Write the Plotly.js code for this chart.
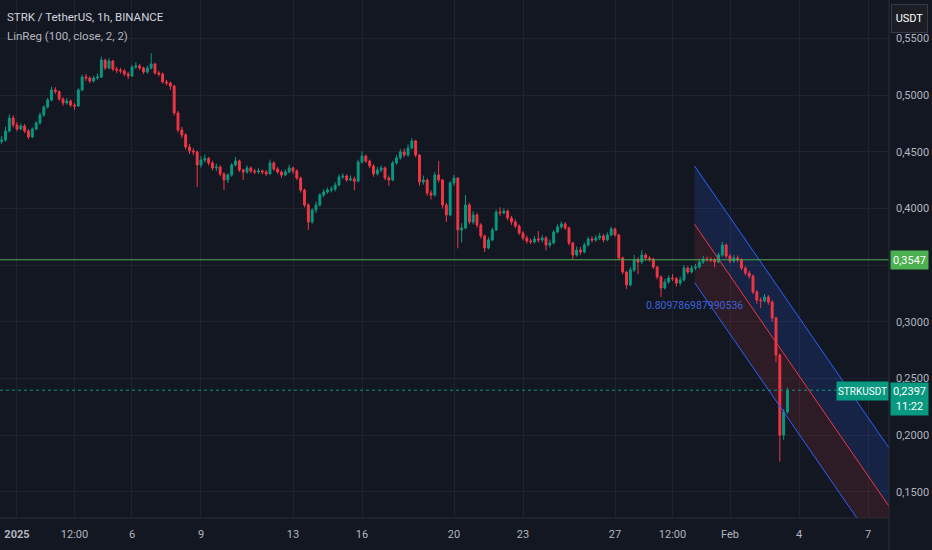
<!DOCTYPE html>
<html>
<head>
<meta charset="utf-8">
<script src="https://cdn.plot.ly/plotly-3.0.1.min.js"></script>
<style>
  html, body { margin: 0; padding: 0; background: #131722; }
  #chart { width: 932px; height: 550px; }
</style>
</head>
<body>
<div id="chart"></div>
<script>
// ---- data (4h bars) ----
const firstBarTime = "2024-12-31 08:00";
const barHours = 4;
const firstOpen = 0.4590;
const closes = [0.4603,0.4683,0.4797,0.4736,0.4700,0.4727,0.4683,0.4630,0.4700,0.4753,
0.4824,0.4894,0.4956,0.5044,0.5030,0.4965,0.4930,0.4947,0.4912,0.4903,
0.5044,0.5159,0.5150,0.5124,0.5150,0.5159,0.5309,0.5238,0.5300,0.5229,
0.5221,0.5212,0.5185,0.5168,0.5247,0.5256,0.5238,0.5203,0.5238,0.5274,
0.5194,0.5185,0.5115,0.5106,0.5080,0.4842,0.4692,0.4648,0.4542,0.4506,
0.4498,0.4383,0.4427,0.4440,0.4401,0.4357,0.4365,0.4304,0.4251,0.4295,
0.4383,0.4418,0.4339,0.4321,0.4357,0.4330,0.4321,0.4330,0.4321,0.4304,
0.4401,0.4348,0.4321,0.4295,0.4321,0.4357,0.4330,0.4268,0.4162,0.4030,
0.3880,0.3986,0.4030,0.4118,0.4145,0.4162,0.4170,0.4206,0.4277,0.4286,
0.4251,0.4260,0.4240,0.4409,0.4462,0.4418,0.4374,0.4304,0.4339,0.4357,
0.4268,0.4251,0.4401,0.4445,0.4498,0.4471,0.4533,0.4595,0.4471,0.4233,
0.4251,0.4136,0.4118,0.4295,0.4251,0.4030,0.3942,0.4224,0.4268,0.3810,
0.3827,0.4030,0.3880,0.3942,0.3854,0.3757,0.3651,0.3722,0.3810,0.3968,
0.3960,0.3977,0.3916,0.3880,0.3845,0.3783,0.3739,0.3713,0.3705,0.3730,
0.3722,0.3740,0.3677,0.3695,0.3792,0.3836,0.3863,0.3827,0.3695,0.3589,
0.3633,0.3616,0.3677,0.3730,0.3722,0.3739,0.3757,0.3722,0.3766,0.3819,
0.3766,0.3563,0.3439,0.3325,0.3457,0.3545,0.3527,0.3589,0.3563,0.3554,
0.3483,0.3395,0.3298,0.3351,0.3386,0.3380,0.3342,0.3369,0.3475,0.3439,
0.3475,0.3483,0.3527,0.3554,0.3548,0.3545,0.3527,0.3589,0.3677,0.3580,
0.3536,0.3563,0.3545,0.3475,0.3430,0.3404,0.3263,0.3192,0.3185,0.3219,
0.3175,0.3034,0.2707,0.2002,0.2205,0.2397];
const highs = [0.4640,0.4721,0.4830,0.4820,0.4760,0.4750,0.4745,0.4700,0.4715,0.4770,
0.4845,0.4910,0.4975,0.5075,0.5070,0.5040,0.4980,0.4975,0.4960,0.4930,
0.5060,0.5180,0.5185,0.5165,0.5170,0.5190,0.5338,0.5320,0.5325,0.5310,
0.5250,0.5240,0.5230,0.5205,0.5265,0.5290,0.5275,0.5250,0.5260,0.5368,
0.5285,0.5215,0.5200,0.5135,0.5120,0.5090,0.4860,0.4720,0.4665,0.4570,
0.4530,0.4510,0.4460,0.4475,0.4455,0.4420,0.4395,0.4380,0.4320,0.4310,
0.4400,0.4455,0.4430,0.4350,0.4380,0.4370,0.4350,0.4355,0.4345,0.4340,
0.4430,0.4415,0.4365,0.4335,0.4345,0.4385,0.4370,0.4345,0.4280,0.4175,
0.4045,0.4000,0.4060,0.4135,0.4170,0.4185,0.4195,0.4230,0.4300,0.4310,
0.4300,0.4290,0.4280,0.4430,0.4505,0.4475,0.4430,0.4390,0.4365,0.4380,
0.4370,0.4290,0.4420,0.4470,0.4525,0.4530,0.4565,0.4619,0.4605,0.4480,
0.4290,0.4265,0.4160,0.4320,0.4418,0.4260,0.4050,0.4240,0.4295,0.4275,
0.3870,0.4118,0.4050,0.3975,0.3960,0.3870,0.3770,0.3745,0.3830,0.3990,
0.4010,0.4000,0.3990,0.3935,0.3905,0.3860,0.3800,0.3760,0.3735,0.3755,
0.3800,0.3765,0.3755,0.3725,0.3810,0.3860,0.3885,0.3880,0.3840,0.3705,
0.3665,0.3660,0.3700,0.3750,0.3755,0.3765,0.3785,0.3775,0.3790,0.3840,
0.3830,0.3775,0.3575,0.3450,0.3480,0.3590,0.3570,0.3633,0.3605,0.3580,
0.3565,0.3495,0.3410,0.3380,0.3410,0.3420,0.3395,0.3400,0.3500,0.3490,
0.3500,0.3510,0.3550,0.3580,0.3575,0.3570,0.3565,0.3610,0.3705,0.3690,
0.3600,0.3590,0.3585,0.3560,0.3490,0.3450,0.3415,0.3280,0.3215,0.3245,
0.3235,0.3190,0.3045,0.2720,0.2230,0.2420];
const lows = [0.4570,0.4590,0.4670,0.4715,0.4680,0.4690,0.4665,0.4612,0.4620,0.4690,
0.4740,0.4810,0.4880,0.4945,0.5010,0.4950,0.4905,0.4915,0.4895,0.4870,
0.4895,0.5035,0.5125,0.5105,0.5110,0.5135,0.5150,0.5220,0.5225,0.5210,
0.5195,0.5190,0.5165,0.5140,0.5160,0.5230,0.5220,0.5185,0.5190,0.5225,
0.5180,0.5165,0.5100,0.5085,0.5045,0.4820,0.4670,0.4620,0.4520,0.4480,
0.4470,0.4189,0.4360,0.4405,0.4380,0.4335,0.4330,0.4285,0.4162,0.4225,
0.4280,0.4370,0.4320,0.4251,0.4305,0.4310,0.4300,0.4305,0.4300,0.4285,
0.4295,0.4330,0.4305,0.4270,0.4285,0.4310,0.4305,0.4250,0.4140,0.4010,
0.3810,0.3865,0.3960,0.4015,0.4100,0.4130,0.4140,0.4150,0.4195,0.4260,
0.4235,0.4240,0.4160,0.4230,0.4395,0.4400,0.4355,0.4280,0.4290,0.4320,
0.4250,0.4200,0.4240,0.4385,0.4430,0.4450,0.4455,0.4520,0.4450,0.4200,
0.4210,0.4110,0.4080,0.4105,0.4230,0.4000,0.3880,0.3930,0.4200,0.3648,
0.3700,0.3815,0.3860,0.3860,0.3830,0.3735,0.3616,0.3640,0.3710,0.3800,
0.3935,0.3945,0.3895,0.3855,0.3825,0.3765,0.3720,0.3690,0.3685,0.3690,
0.3700,0.3700,0.3630,0.3655,0.3685,0.3780,0.3820,0.3810,0.3675,0.3545,
0.3575,0.3590,0.3605,0.3665,0.3700,0.3705,0.3720,0.3700,0.3710,0.3755,
0.3750,0.3545,0.3420,0.3290,0.3310,0.3440,0.3420,0.3510,0.3540,0.3530,
0.3465,0.3375,0.3219,0.3285,0.3335,0.3360,0.3310,0.3320,0.3355,0.3420,
0.3425,0.3455,0.3470,0.3510,0.3530,0.3525,0.3480,0.3515,0.3575,0.3560,
0.3515,0.3520,0.3525,0.3455,0.3410,0.3380,0.3245,0.3160,0.3122,0.3170,
0.3150,0.3000,0.2645,0.1767,0.1960,0.2190];

// Linear regression channel (start of window, far extension)
const chanTimes = ["2025-01-30 11:00", "2025-02-08 00:00"];
const chanUpper = [0.4374, 0.1862];
const chanMid   = [0.3860, 0.1348];
const chanLower = [0.3345, 0.0833];
const pearsonR = "0.809786987990536";
const pearsonPos = { x: "2025-01-30 11:00", y: 0.3148 };

const levelLine = 0.3547;
const lastPrice = 0.2397;
const countdown = "11:22";
const symbolName = "STRKUSDT";

const xTickVals = ["2025-01-01", "2025-01-03 12:00", "2025-01-06", "2025-01-09", "2025-01-13",
  "2025-01-16", "2025-01-20", "2025-01-23", "2025-01-27", "2025-01-29 12:00", "2025-02-01",
  "2025-02-04", "2025-02-07"];
const xTickText = ["<b>2025</b>", "12:00", "6", "9", "13", "16", "20", "23", "27", "12:00", "Feb", "4", "7"];
// 0.35 label sits hidden under the green level tag in the reference
const yTickVals = [0.15, 0.20, 0.25, 0.30, 0.35, 0.40, 0.45, 0.50, 0.55];
const yTickText = ["0,1500", "0,2000", "0,2500", "0,3000", "", "0,4000", "0,4500", "0,5000", "0,5500"];
const xRange = ["2024-12-31 06:16", "2025-02-07 21:55"];
const yRange = [0.1270, 0.5838];

// ---- build ----
function toUTCms(s) {
  const [d, t] = s.split(" ");
  const [Y, M, D] = d.split("-").map(Number);
  const [h, m] = (t || "00:00").split(":").map(Number);
  return Date.UTC(Y, M - 1, D, h, m);
}
function fmt(ms) { return new Date(ms).toISOString().slice(0, 16).replace("T", " "); }

const t0 = toUTCms(firstBarTime);
const times = closes.map((_, i) => fmt(t0 + i * barHours * 3600e3));
const opens = closes.map((_, i) => i === 0 ? firstOpen : closes[i - 1]);

const UP = "#089981", DOWN = "#f23645", BLUE = "#2962ff";
const FONT = "Roboto, Liberation Sans, sans-serif";

const c0 = toUTCms(chanTimes[0]), c1 = toUTCms(chanTimes[1]);
const polyPath = (a, b) => `M ${c0},${a[0]} L ${c1},${a[1]} L ${c1},${b[1]} L ${c0},${b[0]} Z`;

const traces = [
  {
    type: "candlestick", x: times, open: opens, high: highs, low: lows, close: closes,
    increasing: { line: { color: UP, width: 1 }, fillcolor: UP },
    decreasing: { line: { color: DOWN, width: 1 }, fillcolor: DOWN },
    whiskerwidth: 0, hoverinfo: "skip", showlegend: false
  },
  { type: "scatter", mode: "lines", x: chanTimes, y: chanUpper, line: { color: BLUE, width: 1 }, hoverinfo: "skip" },
  { type: "scatter", mode: "lines", x: chanTimes, y: chanMid, line: { color: DOWN, width: 1 }, hoverinfo: "skip" },
  { type: "scatter", mode: "lines", x: chanTimes, y: chanLower, line: { color: BLUE, width: 1 }, hoverinfo: "skip" }
];

const W = 889, H = 518; // plot area in px
const px = v => v / W, py = v => 1 - v / H;

const shapes = [
  { type: "path", xref: "x", yref: "y", path: polyPath(chanUpper, chanMid), fillcolor: "rgba(41,98,255,0.16)", line: { width: 0 }, layer: "between" },
  { type: "path", xref: "x", yref: "y", path: polyPath(chanMid, chanLower), fillcolor: "rgba(242,54,69,0.12)", line: { width: 0 }, layer: "between" },
  { type: "line", xref: "paper", yref: "y", x0: 0, x1: 1, y0: levelLine, y1: levelLine, line: { color: "#4caf50", width: 1 } },
  { type: "line", xref: "paper", yref: "y", x0: 0, x1: 1, y0: lastPrice, y1: lastPrice, line: { color: UP, width: 1, dash: "dot" } },
  // scale separators
  { type: "line", xref: "paper", yref: "paper", x0: 1, x1: 1, y0: py(550), y1: 1, line: { color: "#2a2e39", width: 1 } },
  { type: "line", xref: "paper", yref: "paper", x0: 0, x1: 1, y0: 0, y1: 0, line: { color: "#2a2e39", width: 1 } }
];

const ann = (text, x, y, opts = {}) => Object.assign({
  text, x, y, xref: "paper", yref: "paper", showarrow: false,
  xanchor: "left", yanchor: "middle", font: { family: FONT, size: 11, color: "#d1d4dc" }
}, opts);

const whiteFont = { family: FONT, size: 11, color: "#ffffff" };
const annotations = [
  ann("STRK / TetherUS, 1h, BINANCE", px(5), py(17), { font: { family: FONT, size: 11.5, color: "#d1d4dc" } }),
  ann("LinReg (100, close, 2, 2)", px(5), py(36), { font: { family: FONT, size: 11.5, color: "#b2b5be" } }),
  ann(pearsonR, pearsonPos.x, pearsonPos.y, { xref: "x", yref: "y", xanchor: "center", font: { family: FONT, size: 10.5, color: "#3b63dc" } }),
  // label boxes (drawn above the price scale texts)
  ann(symbolName, px(836), py(391), { width: 51, height: 18, borderpad: 0, bgcolor: UP, font: { family: FONT, size: 10, color: "#ffffff" } }),
  ann("0," + lastPrice.toFixed(4).slice(2) + "<br>" + countdown, px(890), py(399), { width: 37, height: 32, borderpad: 0, bgcolor: UP, font: whiteFont }),
  ann("0," + levelLine.toFixed(4).slice(2), px(890), py(260), { width: 37, height: 18, borderpad: 0, bgcolor: "#4caf50", font: whiteFont }),
  ann("USDT", px(891), py(18), { width: 35, height: 27, borderpad: 0, borderwidth: 1, bordercolor: "#363a45", bgcolor: "#1c1e25", font: { family: FONT, size: 11, color: "#ffffff" } })
];

const layout = {
  width: 932, height: 550,
  margin: { l: 0, r: 43, t: 0, b: 32, pad: 0 },
  paper_bgcolor: "#131722", plot_bgcolor: "#131722",
  showlegend: false, hovermode: false,
  xaxis: {
    type: "date", range: xRange, tickvals: xTickVals, ticktext: xTickText,
    showgrid: true, gridcolor: "#1f2330", gridwidth: 1, zeroline: false, showline: false,
    ticks: "", ticklabelstandoff: 8,
    tickfont: { family: FONT, size: 11, color: "#b2b5be" },
    rangeslider: { visible: false }, fixedrange: true
  },
  yaxis: {
    side: "right", range: yRange, tickvals: yTickVals, ticktext: yTickText,
    showgrid: true, gridcolor: "#1f2330", gridwidth: 1, zeroline: false, showline: false,
    ticks: "", ticklabelstandoff: 6,
    tickfont: { family: FONT, size: 11, color: "#b2b5be" }, fixedrange: true
  },
  shapes, annotations
};

Plotly.newPlot("chart", traces, layout, { displayModeBar: false, staticPlot: true });
</script>
</body>
</html>
